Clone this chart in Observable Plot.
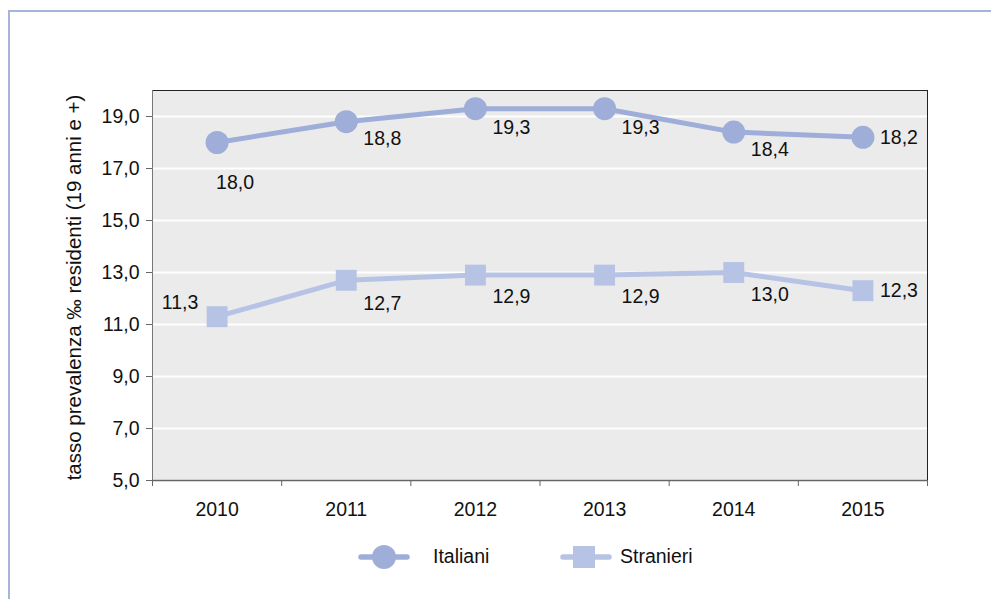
<!DOCTYPE html>
<html><head><meta charset="utf-8">
<script src="https://cdn.jsdelivr.net/npm/d3@7"></script>
<script src="https://cdn.jsdelivr.net/npm/@observablehq/plot@0.6"></script>
<style>
body{margin:0;background:#fff;font-family:"Liberation Sans",Arial,Helvetica,sans-serif;}
#wrap{position:relative;width:991px;height:599px;overflow:hidden;}
#border{position:absolute;left:8px;top:10px;right:-10px;bottom:-10px;border-top:2px solid #a4b4db;border-left:2px solid #a4b4db;}
#chart{position:absolute;left:0;top:0;}
.leg{position:absolute;font-size:19.5px;color:#111;line-height:1;}
</style></head>
<body>
<div id="wrap"><div id="border"></div><div id="chart"></div><div id="legend"></div></div>
<script>
const years = [2010, 2011, 2012, 2013, 2014, 2015];
const italiani = [18.0, 18.8, 19.3, 19.3, 18.4, 18.2];
const stranieri = [11.3, 12.7, 12.9, 12.9, 13.0, 12.3];
const yTicks = [5, 7, 9, 11, 13, 15, 17, 19];
const seriesNames = ["Italiani", "Stranieri"];
const seriesColors = ["#9eaed9", "#b7c3e5"];
const yLabel = "tasso prevalenza ‰ residenti (19 anni e +)";

const FS = 19.5;
const fmt = d => d.toFixed(1).replace(".", ",");
const dataIt = years.map((y, i) => ({year: y, value: italiani[i]}));
const dataSt = years.map((y, i) => ({year: y, value: stranieri[i]}));
const boundaries = years.map(y => y - 0.5).concat([years[years.length - 1] + 0.5]);

// label offsets (style)
const offIt = [[18, 40], [36, 17], [36, 19], [36, 19], [36, 18], [36, 0]];
const offSt = [[-37, -14], [36, 23], [36, 22], [36, 22], [36, 22], [36, 0]];
const labelMarks = (data, offs) => data.map((d, i) => Plot.text([d], {
  x: "year", y: "value", text: d => fmt(d.value), dx: offs[i][0], dy: offs[i][1],
  fontSize: FS, fill: "#111"
}));

const xDom = [boundaries[0], boundaries[boundaries.length - 1]];
const plot = Plot.plot({
  width: 991, height: 530,
  marginTop: 90, marginLeft: 152, marginRight: 64, marginBottom: 50,
  style: {fontFamily: '"Liberation Sans", Arial, Helvetica, sans-serif', fontSize: FS + "px", color: "#111", background: "transparent"},
  x: {domain: xDom, axis: null},
  y: {domain: [5, 20], axis: null},
  marks: [
    Plot.frame({fill: "#ebebeb", stroke: null}),
    Plot.ruleY(yTicks, {stroke: "#ffffff", strokeWidth: 2}),
    Plot.ruleY([20], {stroke: "#222", strokeWidth: 1}),
    Plot.ruleX([xDom[1]], {stroke: "#222", strokeWidth: 1}),
    Plot.ruleX([xDom[0]], {stroke: "#777", strokeWidth: 1}),
    Plot.axisY(yTicks, {tickSize: 6, tickPadding: 7, tickFormat: fmt, fontSize: FS, stroke: "#666", label: null}),
    Plot.axisX(boundaries, {tickSize: 6, tickFormat: () => "", stroke: "#666", label: null}),
    Plot.axisX(years, {tickSize: 0, tickPadding: 22, tickFormat: d => String(d), fontSize: FS, label: null}),
    Plot.ruleY([5], {stroke: "#666", strokeWidth: 1.5}),
    Plot.text([yLabel], {frameAnchor: "left", textAnchor: "middle", lineAnchor: "middle", rotate: -90, dx: -78, dy: 2, fontSize: 20.5, fill: "#111"}),
    Plot.line(dataIt, {x: "year", y: "value", stroke: seriesColors[0], strokeWidth: 5, strokeLinejoin: "round"}),
    Plot.dot(dataIt, {x: "year", y: "value", r: 11.5, fill: seriesColors[0], stroke: null}),
    Plot.line(dataSt, {x: "year", y: "value", stroke: seriesColors[1], strokeWidth: 5, strokeLinejoin: "round"}),
    Plot.dot(dataSt, {x: "year", y: "value", r: 11.8, symbol: "square", fill: seriesColors[1], stroke: null}),
    ...labelMarks(dataIt, offIt),
    ...labelMarks(dataSt, offSt)
  ]
});
document.getElementById("chart").appendChild(plot);

// legend
const legendPos = [{x: 360, text: 433, shape: "circle"}, {x: 562, text: 620, shape: "square"}];
const leg = document.getElementById("legend");
seriesNames.forEach((name, i) => {
  const p = legendPos[i];
  const svgNS = "http://www.w3.org/2000/svg";
  const s = document.createElementNS(svgNS, "svg");
  s.setAttribute("width", 52); s.setAttribute("height", 28);
  s.style.position = "absolute"; s.style.left = (p.x - 2) + "px"; s.style.top = (557 - 14) + "px";
  const ln = document.createElementNS(svgNS, "line");
  ln.setAttribute("x1", 3); ln.setAttribute("x2", 49); ln.setAttribute("y1", 14); ln.setAttribute("y2", 14);
  ln.setAttribute("stroke", seriesColors[i]); ln.setAttribute("stroke-width", 5.5); ln.setAttribute("stroke-linecap", "round");
  s.appendChild(ln);
  if (p.shape === "circle") {
    const c = document.createElementNS(svgNS, "circle");
    c.setAttribute("cx", 26); c.setAttribute("cy", 14); c.setAttribute("r", 12); c.setAttribute("fill", seriesColors[i]);
    s.appendChild(c);
  } else {
    const r = document.createElementNS(svgNS, "rect");
    r.setAttribute("x", 13); r.setAttribute("y", 3); r.setAttribute("width", 22); r.setAttribute("height", 22); r.setAttribute("fill", seriesColors[i]);
    s.appendChild(r);
  }
  leg.appendChild(s);
  const t = document.createElement("div");
  t.className = "leg"; t.textContent = name;
  t.style.left = p.text + "px"; t.style.top = (557 - 10) + "px";
  leg.appendChild(t);
});
</script>
</body></html>
